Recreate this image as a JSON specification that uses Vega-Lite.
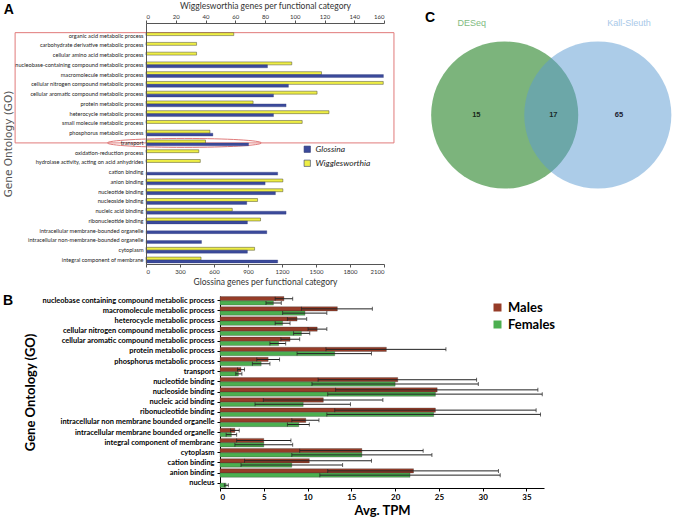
{
  "$schema": "https://vega.github.io/schema/vega-lite/v6.json",
  "padding": {"left": 2, "top": 1, "right": 0, "bottom": 0},
  "background": "white",
  "config": {"view": {"stroke": null}, "font": "Liberation Sans"},
  "resolve": {"scale": {"color": "independent", "yOffset": "independent"}, "legend": {"color": "independent"}},
  "datasets": {
    "go": [
      {"category": "organic acid metabolic process", "series": "Wigglesworthia", "value": 59},
      {"category": "carbohydrate derivative metabolic process", "series": "Wigglesworthia", "value": 34},
      {"category": "cellular amino acid metabolic process", "series": "Wigglesworthia", "value": 34},
      {"category": "nucleobase-containing compound metabolic process", "series": "Wigglesworthia", "value": 98},
      {"category": "nucleobase-containing compound metabolic process", "series": "Glossina", "value": 1072},
      {"category": "macromolecule metabolic process", "series": "Wigglesworthia", "value": 118},
      {"category": "macromolecule metabolic process", "series": "Glossina", "value": 2095},
      {"category": "cellular nitrogen compound metabolic process", "series": "Wigglesworthia", "value": 159.5},
      {"category": "cellular nitrogen compound metabolic process", "series": "Glossina", "value": 1257},
      {"category": "cellular aromatic compound metabolic process", "series": "Wigglesworthia", "value": 115},
      {"category": "cellular aromatic compound metabolic process", "series": "Glossina", "value": 1125},
      {"category": "protein metabolic process", "series": "Wigglesworthia", "value": 72},
      {"category": "protein metabolic process", "series": "Glossina", "value": 1236},
      {"category": "heterocycle metabolic process", "series": "Wigglesworthia", "value": 123},
      {"category": "heterocycle metabolic process", "series": "Glossina", "value": 1125},
      {"category": "small molecule metabolic process", "series": "Wigglesworthia", "value": 105},
      {"category": "phosphorus metabolic process", "series": "Wigglesworthia", "value": 43},
      {"category": "phosphorus metabolic process", "series": "Glossina", "value": 590},
      {"category": "transport", "series": "Wigglesworthia", "value": 40},
      {"category": "transport", "series": "Glossina", "value": 905},
      {"category": "oxidation-reduction process", "series": "Wigglesworthia", "value": 35.5},
      {"category": "hydrolase activity, acting on acid anhydrides", "series": "Wigglesworthia", "value": 36.5},
      {"category": "cation binding", "series": "Glossina", "value": 1162},
      {"category": "anion binding", "series": "Wigglesworthia", "value": 92},
      {"category": "anion binding", "series": "Glossina", "value": 1051},
      {"category": "nucleotide binding", "series": "Wigglesworthia", "value": 92},
      {"category": "nucleotide binding", "series": "Glossina", "value": 1142},
      {"category": "nucleoside binding", "series": "Wigglesworthia", "value": 75},
      {"category": "nucleoside binding", "series": "Glossina", "value": 889},
      {"category": "nucleic acid binding", "series": "Wigglesworthia", "value": 58},
      {"category": "nucleic acid binding", "series": "Glossina", "value": 1236},
      {"category": "ribonucleotide binding", "series": "Wigglesworthia", "value": 77},
      {"category": "ribonucleotide binding", "series": "Glossina", "value": 895},
      {"category": "intracellular membrane-bounded organelle", "series": "Glossina", "value": 1066},
      {"category": "intracellular non-membrane-bounded organelle", "series": "Glossina", "value": 490},
      {"category": "cytoplasm", "series": "Wigglesworthia", "value": 73},
      {"category": "cytoplasm", "series": "Glossina", "value": 895},
      {"category": "integral component of membrane", "series": "Wigglesworthia", "value": 37},
      {"category": "integral component of membrane", "series": "Glossina", "value": 1162}
    ],
    "tpm": [
      {"category": "nucleobase containing compound metabolic process", "sex": "Males", "mean": 7.3, "lo": 6.3, "hi": 8.3},
      {"category": "nucleobase containing compound metabolic process", "sex": "Females", "mean": 6.1, "lo": 5.25, "hi": 7.0},
      {"category": "macromolecule metabolic process", "sex": "Males", "mean": 13.4, "lo": 9.3, "hi": 17.4},
      {"category": "macromolecule metabolic process", "sex": "Females", "mean": 9.7, "lo": 7.15, "hi": 12.2},
      {"category": "heterocycle metabolic process", "sex": "Males", "mean": 8.8, "lo": 7.7, "hi": 9.9},
      {"category": "heterocycle metabolic process", "sex": "Females", "mean": 7.15, "lo": 6.3, "hi": 8.0},
      {"category": "cellular nitrogen compound metabolic process", "sex": "Males", "mean": 11.1, "lo": 10.05, "hi": 12.2},
      {"category": "cellular nitrogen compound metabolic process", "sex": "Females", "mean": 9.3, "lo": 8.4, "hi": 10.25},
      {"category": "cellular aromatic compound metabolic process", "sex": "Males", "mean": 8.0, "lo": 6.95, "hi": 9.1},
      {"category": "cellular aromatic compound metabolic process", "sex": "Females", "mean": 6.7, "lo": 5.7, "hi": 7.5},
      {"category": "protein metabolic process", "sex": "Males", "mean": 19.0, "lo": 12.1, "hi": 25.8},
      {"category": "protein metabolic process", "sex": "Females", "mean": 13.1, "lo": 8.8, "hi": 17.3},
      {"category": "phosphorus metabolic process", "sex": "Males", "mean": 5.5, "lo": 4.2, "hi": 6.8},
      {"category": "phosphorus metabolic process", "sex": "Females", "mean": 4.7, "lo": 3.7, "hi": 5.7},
      {"category": "transport", "sex": "Males", "mean": 2.4, "lo": 2.0, "hi": 2.8},
      {"category": "transport", "sex": "Females", "mean": 2.1, "lo": 1.8, "hi": 2.5},
      {"category": "nucleotide binding", "sex": "Males", "mean": 20.3, "lo": 11.2, "hi": 29.3},
      {"category": "nucleotide binding", "sex": "Females", "mean": 20.0, "lo": 10.5, "hi": 29.5},
      {"category": "nucleoside binding", "sex": "Males", "mean": 24.8, "lo": 13.2, "hi": 36.3},
      {"category": "nucleoside binding", "sex": "Females", "mean": 24.6, "lo": 12.3, "hi": 36.8},
      {"category": "nucleic acid binding", "sex": "Males", "mean": 11.8, "lo": 4.95, "hi": 18.6},
      {"category": "nucleic acid binding", "sex": "Females", "mean": 9.5, "lo": 4.0, "hi": 14.9},
      {"category": "ribonucleotide binding", "sex": "Males", "mean": 24.6, "lo": 13.1, "hi": 36.1},
      {"category": "ribonucleotide binding", "sex": "Females", "mean": 24.4, "lo": 12.2, "hi": 36.6},
      {"category": "intracellular non membrane bounded organelle", "sex": "Males", "mean": 9.8, "lo": 8.2, "hi": 11.3},
      {"category": "intracellular non membrane bounded organelle", "sex": "Females", "mean": 9.0, "lo": 7.7, "hi": 10.2},
      {"category": "intracellular membrane bounded organelle", "sex": "Males", "mean": 1.7, "lo": 1.2, "hi": 2.2},
      {"category": "intracellular membrane bounded organelle", "sex": "Females", "mean": 1.3, "lo": 0.7, "hi": 1.9},
      {"category": "integral component of membrane", "sex": "Males", "mean": 5.0, "lo": 1.9, "hi": 8.1},
      {"category": "integral component of membrane", "sex": "Females", "mean": 5.0, "lo": 1.7, "hi": 8.3},
      {"category": "cytoplasm", "sex": "Males", "mean": 16.2, "lo": 9.1, "hi": 23.2},
      {"category": "cytoplasm", "sex": "Females", "mean": 16.2, "lo": 8.2, "hi": 24.2},
      {"category": "cation binding", "sex": "Males", "mean": 10.2, "lo": 2.8, "hi": 17.3},
      {"category": "cation binding", "sex": "Females", "mean": 8.2, "lo": 2.4, "hi": 14.0},
      {"category": "anion binding", "sex": "Males", "mean": 22.1, "lo": 12.3, "hi": 31.8},
      {"category": "anion binding", "sex": "Females", "mean": 21.7, "lo": 11.4, "hi": 32.0},
      {"category": "nucleus", "sex": "Females", "mean": 0.7, "lo": 0.5, "hi": 0.95}
    ],
    "sets": [
      {"set": "DESeq", "total": 32},
      {"set": "Kall-Sleuth", "total": 82}
    ],
    "regions": [
      {"region": "DESeq only", "count": 15},
      {"region": "both", "count": 17},
      {"region": "Kall-Sleuth only", "count": 65}
    ]
  },
  "vconcat": [
    {
      "spacing": 0,
      "hconcat": [
        {"width": 1, "height": 1, "data": {"values": [{}]}, "mark": {"type": "point", "size": 0, "strokeWidth": 0, "opacity": 0}},
        {
          "width": 238,
          "height": 241,
          "title": {"text": "A", "anchor": "start", "frame": "bounds", "fontSize": 14, "fontWeight": "bold", "font": "Liberation Sans", "color": "black", "offset": -16},
          "layer": [
            {
              "data": {"values": [{}]},
              "mark": {"type": "rect", "fillOpacity": 0, "stroke": "#e07a7a", "strokeWidth": 1, "clip": false},
              "encoding": {
                "x": {"datum": -88, "type": "quantitative", "scale": {"domain": [0, 160], "nice": false}, "axis": null},
                "x2": {"datum": 166.7},
                "y": {"datum": "organic acid metabolic process", "type": "nominal", "bandPosition": 0, "title": "Gene Ontology (GO)",
                  "scale": {"domain": ["organic acid metabolic process", "carbohydrate derivative metabolic process", "cellular amino acid metabolic process", "nucleobase-containing compound metabolic process", "macromolecule metabolic process", "cellular nitrogen compound metabolic process", "cellular aromatic compound metabolic process", "protein metabolic process", "heterocycle metabolic process", "small molecule metabolic process", "phosphorus metabolic process", "transport", "oxidation-reduction process", "hydrolase activity, acting on acid anhydrides", "cation binding", "anion binding", "nucleotide binding", "nucleoside binding", "nucleic acid binding", "ribonucleotide binding", "intracellular membrane-bounded organelle", "intracellular non-membrane-bounded organelle", "cytoplasm", "integral component of membrane"], "paddingInner": 0.4, "paddingOuter": 0.55, "align": 0.9}},
                "y2": {"datum": "transport"}
              }
            },
            {
              "data": {"values": [{}]},
              "mark": {"type": "point", "shape": "M-1,0A1,0.058,0,1,1,1,0A1,0.058,0,1,1,-1,0Z", "size": 23716, "filled": false, "stroke": "#e07a7a", "strokeWidth": 1, "opacity": 1, "clip": false},
              "encoding": {
                "x": {"datum": 25.8, "type": "quantitative", "scale": {"domain": [0, 160], "nice": false}, "axis": null},
                "y": {"datum": "transport", "type": "nominal", "title": "Gene Ontology (GO)"}
              }
            },
            {
              "data": {"name": "go"},
              "transform": [{"filter": "datum.series === 'Wigglesworthia'"}],
              "mark": {"type": "bar", "stroke": "#4a4a30", "strokeWidth": 0.5},
              "encoding": {
                "x": {"field": "value", "type": "quantitative", "scale": {"domain": [0, 160], "nice": false},
                  "axis": {"orient": "top", "values": [0, 20, 40, 60, 80, 100, 120, 140, 160], "title": "Wigglesworthia genes per functional category", "grid": false, "labelFont": "Lato", "labelFontSize": 6, "labelColor": "#333", "labelPadding": 1, "tickSize": 3, "tickColor": "#555", "domainColor": "#555", "titleFont": "Lato", "titleFontSize": 8.5, "titleFontWeight": "normal", "titleColor": "#333", "titlePadding": 3}},
                "y": {"field": "category", "type": "nominal", "title": "Gene Ontology (GO)",
                  "axis": {"ticks": false, "labelFont": "Lato", "labelFontSize": 5.6, "labelColor": "#222", "labelPadding": 3, "labelLimit": 300, "domainColor": "#555", "titleFont": "DejaVu Sans", "titleFontSize": 10.5, "titleFontWeight": "normal", "titleColor": "#555", "titlePadding": 1}},
                "yOffset": {"field": "series", "type": "nominal", "scale": {"domain": ["Wigglesworthia", "Glossina"], "paddingInner": 0, "paddingOuter": 0}},
                "color": {"field": "series", "type": "nominal", "scale": {"domain": ["Glossina", "Wigglesworthia"], "range": ["#3b4a9b", "#eeee45"]},
                  "legend": {"orient": "none", "legendX": 301, "legendY": 122, "title": null, "symbolType": "square", "symbolSize": 40, "symbolStrokeColor": "#333", "symbolStrokeWidth": 0.6, "labelFont": "Lato", "labelFontStyle": "italic", "labelFontSize": 8.5, "labelColor": "#222", "rowPadding": 4}}
              }
            },
            {
              "data": {"name": "go"},
              "transform": [{"filter": "datum.series === 'Glossina'"}],
              "mark": {"type": "bar", "stroke": "#2a3470", "strokeWidth": 0.3},
              "encoding": {
                "x": {"field": "value", "type": "quantitative", "scale": {"domain": [0, 2100], "nice": false},
                  "axis": {"orient": "bottom", "values": [0, 300, 600, 900, 1200, 1500, 1800, 2100], "format": "d", "title": "Glossina genes per functional category", "grid": false, "labelFont": "Lato", "labelFontSize": 6, "labelColor": "#333", "labelPadding": 1, "tickSize": 3, "tickColor": "#555", "domainColor": "#555", "titleFont": "Lato", "titleFontSize": 8.5, "titleFontWeight": "normal", "titleColor": "#333", "titlePadding": 3}},
                "y": {"field": "category", "type": "nominal", "title": "Gene Ontology (GO)"},
                "yOffset": {"field": "series", "type": "nominal"},
                "color": {"field": "series", "type": "nominal"}
              }
            }
          ],
          "resolve": {"scale": {"x": "independent"}, "axis": {"x": "independent"}}
        },
        {
          "width": 287,
          "height": 200,
          "layer": [
            {
              "data": {"name": "sets"},
              "transform": [{"filter": "datum.set === 'DESeq'"}],
              "mark": {"type": "point", "shape": "circle", "filled": true, "size": 21642, "color": "#7cb47c", "opacity": 1},
              "encoding": {
                "x": {"datum": 505.7, "type": "quantitative", "scale": {"domain": [396, 683], "nice": false, "zero": false}, "axis": null},
                "y": {"datum": 113, "type": "quantitative", "scale": {"domain": [21, 221], "nice": false, "zero": false, "reverse": true}, "axis": null}
              }
            },
            {
              "data": {"name": "sets"},
              "transform": [{"filter": "datum.set === 'Kall-Sleuth'"}],
              "mark": {"type": "point", "shape": "circle", "filled": true, "size": 21642, "color": "#5c9bd2", "opacity": 0.51},
              "encoding": {
                "x": {"datum": 598.8, "type": "quantitative", "scale": {"domain": [396, 683], "nice": false, "zero": false}, "axis": null},
                "y": {"datum": 113, "type": "quantitative", "scale": {"domain": [21, 221], "nice": false, "zero": false, "reverse": true}, "axis": null}
              }
            },
            {
              "data": {"values": [{"panel": "C"}]},
              "mark": {"type": "text", "fontSize": 14, "fontWeight": "bold", "color": "#000", "font": "Liberation Sans", "clip": false},
              "encoding": {
                "x": {"datum": 431, "type": "quantitative", "scale": {"domain": [396, 683], "nice": false, "zero": false}, "axis": null},
                "y": {"datum": 16, "type": "quantitative", "scale": {"domain": [21, 221], "nice": false, "zero": false, "reverse": true}, "axis": null},
                "text": {"field": "panel"}
              }
            },
            {
              "data": {"name": "sets"},
              "transform": [{"filter": "datum.set === 'DESeq'"}],
              "mark": {"type": "text", "fontSize": 9, "color": "#7fbb7f", "clip": false},
              "encoding": {
                "x": {"datum": 472.7, "type": "quantitative", "scale": {"domain": [396, 683], "nice": false, "zero": false}, "axis": null},
                "y": {"datum": 20.7, "type": "quantitative", "scale": {"domain": [21, 221], "nice": false, "zero": false, "reverse": true}, "axis": null},
                "text": {"field": "set"}
              }
            },
            {
              "data": {"name": "sets"},
              "transform": [{"filter": "datum.set === 'Kall-Sleuth'"}],
              "mark": {"type": "text", "fontSize": 9, "color": "#a8c8e8", "clip": false},
              "encoding": {
                "x": {"datum": 630, "type": "quantitative", "scale": {"domain": [396, 683], "nice": false, "zero": false}, "axis": null},
                "y": {"datum": 20.7, "type": "quantitative", "scale": {"domain": [21, 221], "nice": false, "zero": false, "reverse": true}, "axis": null},
                "text": {"field": "set"}
              }
            },
            {
              "data": {"name": "regions"},
              "transform": [{"filter": "datum.region === 'DESeq only'"}],
              "mark": {"type": "text", "fontSize": 7.5, "fontWeight": "bold", "color": "#1a2a1a"},
              "encoding": {
                "x": {"datum": 477.3, "type": "quantitative", "scale": {"domain": [396, 683], "nice": false, "zero": false}, "axis": null},
                "y": {"datum": 113, "type": "quantitative", "scale": {"domain": [21, 221], "nice": false, "zero": false, "reverse": true}, "axis": null},
                "text": {"field": "count"}
              }
            },
            {
              "data": {"name": "regions"},
              "transform": [{"filter": "datum.region === 'both'"}],
              "mark": {"type": "text", "fontSize": 7.5, "fontWeight": "bold", "color": "#1a2a2a"},
              "encoding": {
                "x": {"datum": 554.3, "type": "quantitative", "scale": {"domain": [396, 683], "nice": false, "zero": false}, "axis": null},
                "y": {"datum": 113, "type": "quantitative", "scale": {"domain": [21, 221], "nice": false, "zero": false, "reverse": true}, "axis": null},
                "text": {"field": "count"}
              }
            },
            {
              "data": {"name": "regions"},
              "transform": [{"filter": "datum.region === 'Kall-Sleuth only'"}],
              "mark": {"type": "text", "fontSize": 7.5, "fontWeight": "bold", "color": "#1a2030"},
              "encoding": {
                "x": {"datum": 620, "type": "quantitative", "scale": {"domain": [396, 683], "nice": false, "zero": false}, "axis": null},
                "y": {"datum": 113, "type": "quantitative", "scale": {"domain": [21, 221], "nice": false, "zero": false, "reverse": true}, "axis": null},
                "text": {"field": "count"}
              }
            }
          ]
        }
      ]
    },
    {
      "spacing": 0,
      "hconcat": [
        {"width": 1, "height": 1, "data": {"values": [{}]}, "mark": {"type": "point", "size": 0, "strokeWidth": 0, "opacity": 0}},
        {
          "width": 324,
          "height": 192,
          "title": {"text": "B", "anchor": "start", "frame": "bounds", "fontSize": 14, "fontWeight": "bold", "font": "Liberation Sans", "color": "black", "offset": -12, "dx": -21},
          "data": {"name": "tpm"},
          "encoding": {
            "y": {"field": "category", "type": "nominal", "title": "Gene Ontology (GO)",
              "scale": {"domain": ["nucleobase containing compound metabolic process", "macromolecule metabolic process", "heterocycle metabolic process", "cellular nitrogen compound metabolic process", "cellular aromatic compound metabolic process", "protein metabolic process", "phosphorus metabolic process", "transport", "nucleotide binding", "nucleoside binding", "nucleic acid binding", "ribonucleotide binding", "intracellular non membrane bounded organelle", "intracellular membrane bounded organelle", "integral component of membrane", "cytoplasm", "cation binding", "anion binding", "nucleus"], "paddingInner": 0.16, "paddingOuter": 0.06},
              "axis": {"labelFont": "Lato", "labelFontWeight": "bold", "labelFontSize": 7.45, "labelColor": "#000", "labelLimit": 300, "labelPadding": 3, "tickSize": 3, "tickColor": "#000", "domainColor": "#000", "titleFont": "Lato", "titleFontSize": 13, "titleFontWeight": "bold", "titleColor": "#000", "titlePadding": 5}},
            "yOffset": {"field": "sex", "type": "nominal", "scale": {"domain": ["Males", "Females"], "paddingInner": 0, "paddingOuter": 0}}
          },
          "layer": [
            {
              "mark": {"type": "bar", "stroke": "#333", "strokeWidth": 0.3},
              "encoding": {
                "x": {"field": "mean", "type": "quantitative", "title": "Avg. TPM", "scale": {"domain": [0, 37], "nice": false},
                  "axis": {"values": [0, 5, 10, 15, 20, 25, 30, 35], "grid": false, "labelFont": "Lato", "labelFontWeight": "bold", "labelFontSize": 8, "labelColor": "#000", "tickSize": 3, "tickColor": "#000", "domainColor": "#000", "titleFont": "Lato", "titleFontSize": 13, "titleFontWeight": "bold", "titleColor": "#000", "titlePadding": 3}},
                "color": {"field": "sex", "type": "nominal", "scale": {"domain": ["Males", "Females"], "range": ["#963c28", "#4caf50"]},
                  "legend": {"orient": "none", "legendX": 489, "legendY": 5, "title": null, "symbolType": "square", "symbolSize": 64, "symbolStrokeWidth": 0, "labelFont": "Lato", "labelFontWeight": "bold", "labelFontSize": 13, "labelColor": "#000", "rowPadding": 3}}
              }
            },
            {
              "mark": {"type": "rule", "color": "#222", "strokeWidth": 1},
              "encoding": {
                "x": {"field": "lo", "type": "quantitative"},
                "x2": {"field": "hi"}
              }
            },
            {
              "mark": {"type": "tick", "orient": "vertical", "color": "#222", "size": 4, "thickness": 1},
              "encoding": {"x": {"field": "hi", "type": "quantitative"}}
            },
            {
              "mark": {"type": "tick", "orient": "vertical", "color": "#222", "size": 4, "thickness": 1},
              "encoding": {"x": {"field": "lo", "type": "quantitative"}}
            }
          ]
        }
      ]
    }
  ],
  "spacing": 8
}
